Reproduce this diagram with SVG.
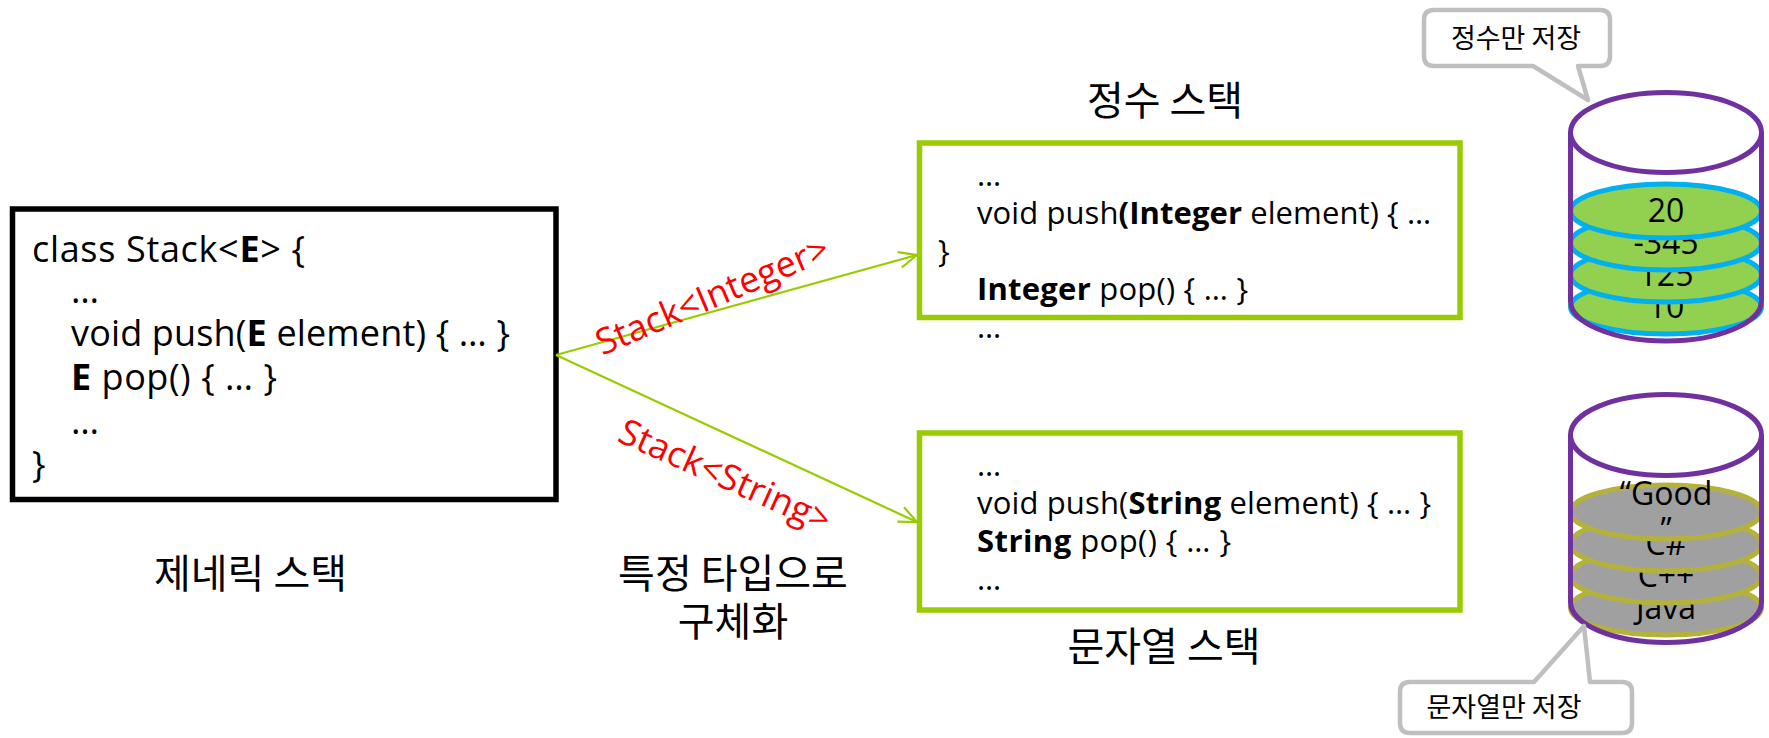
<svg xmlns="http://www.w3.org/2000/svg" width="1769" height="738" viewBox="0 0 1769 738">
<defs>
<style>
.code{font-family:"Open Sans","Noto Sans",sans-serif;fill:#000}
.lc{font-size:36px}
.rc{font-size:31px}
.b{font-weight:bold}
.ko{font-family:"Noto Sans CJK KR","Noto Sans",sans-serif;font-size:40px;fill:#000;text-anchor:middle}
.red{font-family:"Open Sans","Noto Sans",sans-serif;font-size:36px;fill:#FF0000;text-anchor:middle}
.gbox{fill:#fff;stroke:#99CC00;stroke-width:5.5}
.conn{stroke:#99CC00;stroke-width:2.2;fill:none}
.cylo{fill:none;stroke:#7030A0;stroke-width:5}
.cyltop{fill:#fff;stroke:#7030A0;stroke-width:5}
.gd{fill:#92D050;stroke:#00B0F0;stroke-width:5}
.sd{fill:#A0A0A0;stroke:#B5B23C;stroke-width:5}
.dt{font-family:"Open Sans","Noto Sans",sans-serif;font-size:32px;fill:#000;text-anchor:middle}
.call{fill:#fff;stroke:#BFBFBF;stroke-width:4.5;stroke-linejoin:round}
.ct{font-family:"Noto Sans CJK KR","Noto Sans",sans-serif;font-size:27px;fill:#000;text-anchor:middle}
</style>
<marker id="arr" markerUnits="userSpaceOnUse" markerWidth="26" markerHeight="22" viewBox="-22 -11 26 22" refX="0" refY="0" orient="auto" overflow="visible">
<path d="M-18,-8 L0,0 L-18,8" fill="none" stroke="#99CC00" stroke-width="2.2"/>
</marker>
</defs>
<rect width="1769" height="738" fill="#fff"/>

<g id="generic-stack">
<rect x="12.5" y="209" width="543.5" height="290.5" fill="#fff" stroke="#000" stroke-width="5.5"/>
<text class="code lc" x="32" y="262" textLength="273">class Stack&lt;<tspan class="b">E</tspan>&gt; {</text>
<text class="code lc" x="71" y="303">…</text>
<text class="code lc" x="71" y="346" textLength="439">void push(<tspan class="b">E</tspan> element) { … }</text>
<text class="code lc" x="71" y="390" textLength="206"><tspan class="b">E</tspan> pop() { … }</text>
<text class="code lc" x="71" y="434">…</text>
<text class="code lc" x="32" y="477">}</text>
</g>
<g id="generic-label"><text class="ko" x="250.5" y="588">제네릭 스택</text></g>
<g id="concretize-label"><text class="ko" x="733" y="588">특정 타입으로</text><text class="ko" x="733" y="636">구체화</text></g>

<g id="connectors">
<line class="conn" x1="556" y1="355" x2="917" y2="255" marker-end="url(#arr)"/>
<line class="conn" x1="556" y1="355" x2="917" y2="522" marker-end="url(#arr)"/>
<text class="red" transform="translate(717,307) rotate(-23)">Stack&lt;Integer&gt;</text>
<text class="red" transform="translate(720,487) rotate(24)">Stack&lt;String&gt;</text>
</g>

<g id="integer-stack">
<text class="ko" x="1165" y="115">정수 스택</text>
<rect class="gbox" x="919.5" y="143" width="540.5" height="174.5"/>
<text class="code rc" x="977" y="186">…</text>
<text class="code rc" x="977" y="224" textLength="454">void push<tspan class="b">(Integer</tspan> element) { …</text>
<text class="code rc" x="938" y="262">}</text>
<text class="code rc" x="977" y="300" textLength="271"><tspan class="b">Integer</tspan> pop() { … }</text>
<text class="code rc" x="977" y="338">…</text>
</g>

<g id="string-stack">
<rect class="gbox" x="919.5" y="433" width="540.5" height="177"/>
<text class="code rc" x="977" y="476">…</text>
<text class="code rc" x="977" y="514" textLength="454">void push(<tspan class="b">String</tspan> element) { … }</text>
<text class="code rc" x="977" y="552" textLength="254"><tspan class="b">String</tspan> pop() { … }</text>
<text class="code rc" x="977" y="590">…</text>
<text class="ko" x="1164" y="661">문자열 스택</text>
</g>

<g id="integer-cylinder">
<path d="M1570.5,132.5 V301 A95.5,40 0 0 0 1761.5,301 V132.5 Z" fill="#fff"/>
<ellipse class="gd" cx="1666" cy="307" rx="95.5" ry="27"/>
<text class="dt" x="1666" y="318.4">10</text>
<ellipse class="gd" cx="1666" cy="275" rx="95.5" ry="27"/>
<text class="dt" x="1666" y="286.4">125</text>
<ellipse class="gd" cx="1666" cy="243" rx="95.5" ry="27"/>
<text class="dt" x="1666" y="254.4">-345</text>
<ellipse class="gd" cx="1666" cy="211" rx="95.5" ry="27"/>
<text class="dt" x="1666" y="222.4">20</text>
<path class="cylo" d="M1570.5,132.5 V301 A95.5,40 0 0 0 1761.5,301 V132.5"/>
<ellipse class="cyltop" cx="1666" cy="132.5" rx="95.5" ry="40"/>
</g>

<g id="string-cylinder">
<path d="M1570.5,435 V602 A95.5,40.5 0 0 0 1761.5,602 V435 Z" fill="#fff"/>
<ellipse class="sd" cx="1666" cy="608" rx="95.5" ry="27"/>
<text class="dt" x="1666" y="619.4">Java</text>
<ellipse class="sd" cx="1666" cy="576" rx="95.5" ry="27"/>
<text class="dt" x="1666" y="587.4">C++</text>
<ellipse class="sd" cx="1666" cy="544" rx="95.5" ry="27"/>
<text class="dt" x="1666" y="555.4">C#</text>
<ellipse class="sd" cx="1666" cy="512" rx="95.5" ry="27"/>
<text class="dt" x="1666" y="505.4">“Good</text>
<text class="dt" x="1666" y="541.4">”</text>
<path class="cylo" d="M1570.5,435 V602 A95.5,40.5 0 0 0 1761.5,602 V435"/>
<ellipse class="cyltop" cx="1666" cy="435" rx="95.5" ry="40.5"/>
</g>

<g id="callout-integer">
<path class="call" d="M1434,10 H1600 Q1610,10 1610,20 V56 Q1610,66 1600,66 H1578 L1588,100 L1533,66 H1434 Q1424,66 1424,56 V20 Q1424,10 1434,10 Z"/>
<text class="ct" x="1516" y="48">정수만 저장</text>
</g>

<g id="callout-string">
<path class="call" d="M1410,682 H1534 L1584,626 L1590,682 H1622 Q1632,682 1632,692 V723 Q1632,733 1622,733 H1410 Q1400,733 1400,723 V692 Q1400,682 1410,682 Z"/>
<text class="ct" x="1504" y="717">문자열만 저장</text>
</g>
</svg>
